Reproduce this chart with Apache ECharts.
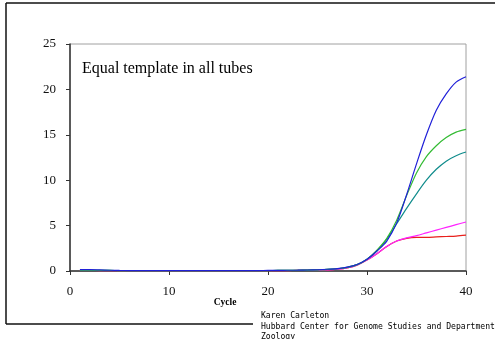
<!DOCTYPE html>
<html><head><meta charset="utf-8">
<script src="https://cdn.jsdelivr.net/npm/echarts@6/dist/echarts.min.js"></script>
<style>html,body{margin:0;padding:0;background:#fff}#c{width:495px;height:339px}</style>
</head><body><div id="c"></div>
<script>
var cycles = [1,2,3,4,5,6,7,8,9,10,11,12,13,14,15,16,17,18,19,20,21,22,23,24,25,26,27,28,29,30,31,32,33,34,35,36,37,38,39,40];
var blueVals = [0.15,0.15,0.12,0.08,0.06,0.05,0.05,0.05,0.05,0.05,0.05,0.05,0.05,0.05,0.05,0.05,0.05,0.05,0.05,0.06,0.07,0.08,0.09,0.11,0.14,0.19,0.27,0.42,0.72,1.3,2.2,3.3,5.3,8.4,11.8,15.0,17.7,19.5,20.8,21.4];
var greenVals = [0.08,0.08,0.07,0.06,0.05,0.05,0.05,0.05,0.05,0.05,0.05,0.05,0.05,0.05,0.05,0.05,0.05,0.05,0.05,0.05,0.06,0.07,0.08,0.1,0.13,0.17,0.25,0.4,0.7,1.3,2.3,3.6,5.6,8.3,10.8,12.6,13.8,14.7,15.3,15.6];
var tealVals = [0.08,0.08,0.07,0.06,0.05,0.05,0.05,0.05,0.05,0.05,0.05,0.05,0.05,0.05,0.05,0.05,0.05,0.05,0.05,0.05,0.06,0.07,0.08,0.1,0.13,0.17,0.25,0.4,0.7,1.3,2.2,3.5,5.2,6.9,8.5,10.0,11.2,12.1,12.7,13.1];
var redVals = [0.06,0.06,0.05,0.05,0.04,0.04,0.04,0.04,0.04,0.04,0.04,0.04,0.04,0.04,0.04,0.04,0.04,0.04,0.04,0.04,0.05,0.05,0.06,0.07,0.09,0.12,0.2,0.35,0.65,1.2,1.9,2.7,3.3,3.6,3.7,3.7,3.75,3.8,3.85,3.95];
var magentaVals = [0.06,0.06,0.05,0.05,0.04,0.04,0.04,0.04,0.04,0.04,0.04,0.04,0.04,0.04,0.04,0.04,0.04,0.04,0.04,0.04,0.05,0.05,0.06,0.07,0.09,0.12,0.2,0.35,0.65,1.2,1.9,2.7,3.3,3.65,3.9,4.2,4.5,4.8,5.1,5.4];
var xTicks = [0,10,20,30,40];
var yTicks = [0,5,10,15,20,25];

function pairs(vals){ return cycles.map(function(c,i){ return [c, vals[i]]; }); }
function mk(name, vals, color){
  return {name:name, type:'line', data:pairs(vals), symbol:'none', smooth:0.3,
    lineStyle:{color:color, width:1.2}, animation:false};
}
var chart = echarts.init(document.getElementById('c'));
chart.setOption({
  animation:false,
  grid:{left:70, right:29, top:44, bottom:68, show:true, borderColor:'#a0a0a0', borderWidth:1},
  xAxis:{type:'value', min:xTicks[0], max:xTicks[xTicks.length-1], interval:10,
    axisLine:{lineStyle:{color:'#333', width:1.5}}, axisTick:{inside:false, length:4, lineStyle:{color:'#333'}},
    axisLabel:{fontFamily:'Liberation Serif', fontSize:13, color:'#111', margin:14}, splitLine:{show:false}},
  yAxis:{type:'value', min:yTicks[0], max:yTicks[yTicks.length-1], interval:5,
    axisLine:{show:true, lineStyle:{color:'#333', width:1.5}}, axisTick:{show:true, length:4, lineStyle:{color:'#333'}},
    axisLabel:{fontFamily:'Liberation Serif', fontSize:13, color:'#111', margin:14}, splitLine:{show:false}},
  graphic:[
    {type:'line', shape:{x1:6, y1:3, x2:495, y2:3}, style:{stroke:'#111', lineWidth:1.5}},
    {type:'line', shape:{x1:6, y1:3, x2:6, y2:324}, style:{stroke:'#111', lineWidth:1.5}},
    {type:'line', shape:{x1:6, y1:324, x2:253, y2:324}, style:{stroke:'#111', lineWidth:1.5}},
    {type:'text', left:82, top:61, style:{text:'Equal template in all tubes', font:'16px "Liberation Serif"', fill:'#000'}},
    {type:'text', x:225, y:303, style:{text:'Cycle', font:'bold 9.5px "Liberation Serif"', fill:'#000', align:'center', verticalAlign:'middle'}},
    {type:'text', left:261, top:311, style:{text:'Karen Carleton\nHubbard Center for Genome Studies and Department\nZoology', font:'8.1px "DejaVu Sans Mono"', lineHeight:10.3, fill:'#000'}}
  ],
  series:[
    mk('red', redVals, '#e8201c'),
    mk('magenta', magentaVals, '#ff22ff'),
    mk('teal', tealVals, '#108c8c'),
    mk('green', greenVals, '#33bb33'),
    mk('blue', blueVals, '#2020d8')
  ]
});
</script></body></html>
